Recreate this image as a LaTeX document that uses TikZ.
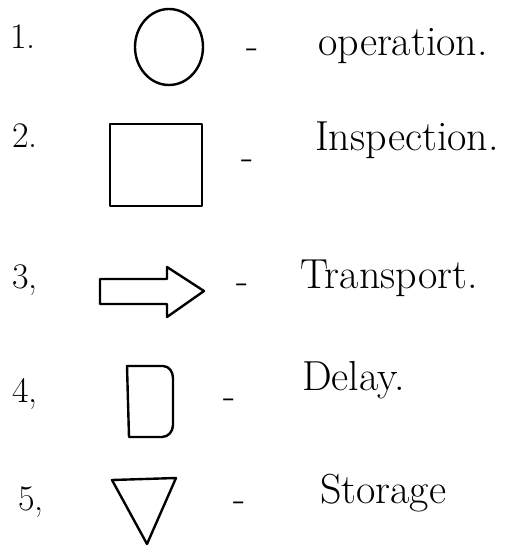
\documentclass[tikz,border=0pt]{standalone}
\usetikzlibrary{calc}
\tikzset{
  symbol/.style={line width=2.4pt,line join=round,line cap=round},
  itemnum/.style={anchor=base west,inner sep=0pt,font=\fontsize{36}{40}\selectfont},
  itemtext/.style={anchor=base west,inner sep=0pt,font=\fontsize{42}{46}\selectfont},
  itemdash/.style={anchor=base,inner sep=0pt,font=\fontsize{40}{44}\selectfont}
}

\begin{document}
\begin{tikzpicture}[x=1pt,y=-1pt]
  \pgfmathsetmacro{\DashX}{244};
  \useasboundingbox (0,0) rectangle (512,546);
  % 
  \node[itemnum] (n1) at (10,48) {1.};
  \draw[symbol] (169,47) ellipse [x radius=34,y radius=38];
  \node[itemdash] (d1) at (\DashX+9,58) {-};
  \node[itemtext] (t1) at (318,55) {operation.};
  % 
  \node[itemnum] (n2) at (12,147) {2.};
  \draw[symbol] (110,124) rectangle (202,206);
  \node[itemdash] (d2) at (\DashX+4,169) {-};
  \node[itemtext] (t2) at (315,150) {Inspection.};
  % 
  \node[itemnum] (n3) at (12,288) {3,};
  \draw[symbol] (100,279) -- (167,279) -- (167,267) -- (204,291) -- (167,317) -- (167,304) -- (100,304) -- cycle;
  \node[itemdash] (d3) at (\DashX-1,293) {-};
  \node[itemtext] (t3) at (300,288) {Transport.};
  % 
  \node[itemnum] (n4) at (12,402) {4,};
  \draw[symbol] (127,366) -- (163,366) to[out=0,in=90] (173,378) -- (173,425)
    to[out=-90,in=0] (162,437) -- (129,437) -- cycle;
  \node[itemdash] (d4) at (\DashX-14,408) {-};
  \node[itemtext] (t4) at (302,390) {Delay.};
  % 
  \node[itemnum] (n5) at (18,510) {5,};
  \draw[symbol] (112,480) -- (176,478) -- (147,544) -- cycle;
  \node[itemdash] (d5) at (\DashX-4,511) {-};
  \node[itemtext] (t5) at (320,503) {Storage};
\end{tikzpicture}
\end{document}
